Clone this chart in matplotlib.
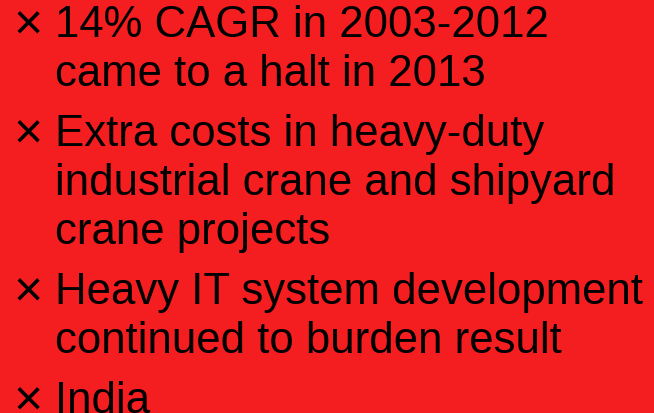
import matplotlib
matplotlib.use("Agg")
import matplotlib.pyplot as plt

# bullet points, each a list of wrapped lines
bullets = [
    ["14% CAGR in 2003-2012", "came to a halt in 2013"],
    ["Extra costs in heavy-duty", "industrial crane and shipyard", "crane projects"],
    ["Heavy IT system development", "continued to burden result"],
    ["India"],
]
marker = "\u00d7"

W, H = 654, 414
fig = plt.figure(figsize=(W / 100, H / 100), dpi=100)
fig.patch.set_facecolor("#F41D1F")

font = dict(family=["Liberation Sans", "DejaVu Sans"], size=31.5, color="black")
mfont = dict(font, size=36)

y = 37          # baseline of first line, px from top
line_gap = 49   # within a bullet
item_gap = 60   # between bullets
for lines in bullets:
    fig.text(14 / W, 1 - (y + 3) / H, marker, va="baseline", ha="left", **mfont)
    for i, line in enumerate(lines):
        if i > 0:
            y += line_gap
        fig.text(55 / W, 1 - y / H, line, va="baseline", ha="left", **font)
    y += item_gap

fig.savefig("out.png", dpi=100, facecolor=fig.get_facecolor())
